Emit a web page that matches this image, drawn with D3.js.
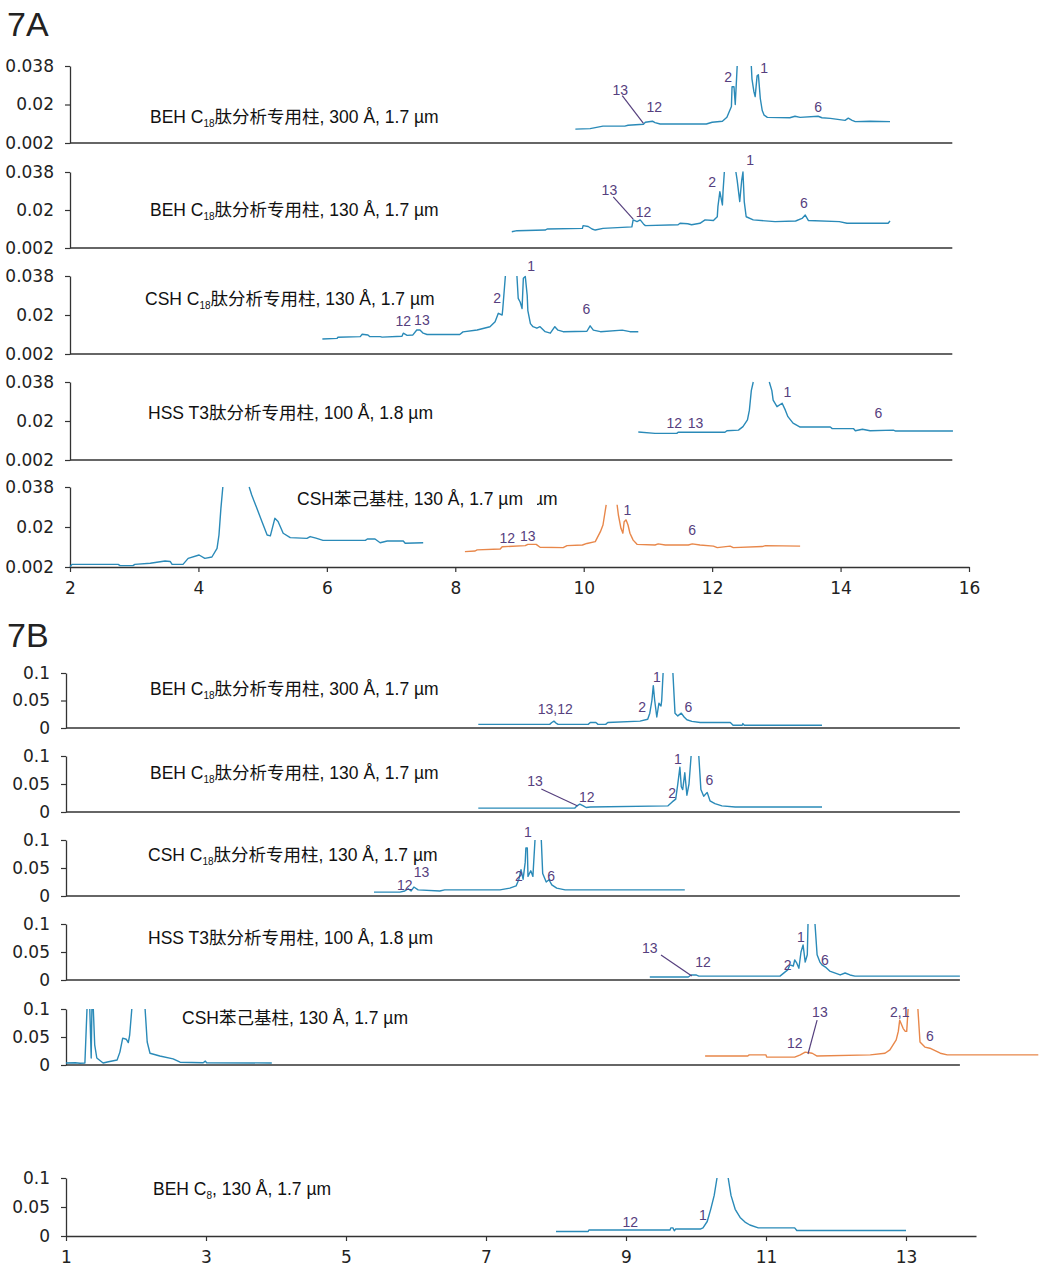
<!DOCTYPE html>
<html><head><meta charset="utf-8">
<script src="https://cdn.jsdelivr.net/npm/d3@7"></script>
<style>
body{margin:0;background:#fff}
svg{display:block}
</style>
</head><body>
<svg id="c" width="1053" height="1280"></svg>
<script>
// ---------- DATA (retention time in min, absorbance in AU) ----------
const axisTicksA = [0.002, 0.02, 0.038];
const axisTicksB = [0, 0.05, 0.1];
const timeTicksA = [2, 4, 6, 8, 10, 12, 14, 16];
const timeTicksB = [1, 3, 5, 7, 9, 11, 13];

const panelTitles = [
  ["BEH C", "18", "肽分析专用柱, 300 Å, 1.7 µm"],
  ["BEH C", "18", "肽分析专用柱, 130 Å, 1.7 µm"],
  ["CSH C", "18", "肽分析专用柱, 130 Å, 1.7 µm"],
  ["HSS T3肽分析专用柱, 100 Å, 1.8 µm", "", ""],
  ["CSH苯己基柱, 130 Å, 1.7 µm", "", ""],
  ["BEH C", "8", ", 130 Å, 1.7 µm"]
];

// 7A traces
const a1Time = [9.87,10.10,10.30,10.64,10.69,10.93,10.96,11.07,11.11,11.19,11.91,12.00,12.16,12.23,12.30,12.31,12.34,12.36,12.39,12.50,12.61,12.62,12.65,12.67,12.70,12.72,12.75,12.78,12.81,12.86,13.21,13.29,13.37,13.65,13.71,13.84,14.07,14.12,14.18,14.23,14.46,14.77];
const a1Abs  = [0.0085,0.0087,0.0099,0.0099,0.0103,0.0108,0.0117,0.0122,0.0115,0.0109,0.0109,0.0117,0.0122,0.0140,0.0191,0.0283,0.0283,0.0200,0.038,null,0.038,0.032,0.026,0.0237,0.0334,0.0339,0.0228,0.0172,0.0150,0.0140,0.0138,0.0145,0.0140,0.0145,0.0138,0.0135,0.0126,0.0136,0.0126,0.0120,0.0122,0.0120];

const a2Time = [8.88,8.96,9.40,9.43,9.98,9.99,10.07,10.13,10.18,10.30,10.75,10.77,10.83,10.88,10.93,10.96,11.47,11.50,11.62,11.68,11.81,11.89,12.02,12.08,12.09,12.12,12.16,12.17,12.19,12.28,12.37,12.39,12.43,12.46,12.48,12.50,12.53,12.64,12.98,13.30,13.40,13.45,13.50,13.98,14.10,14.74,14.77];
const a2Abs  = [0.0097,0.0102,0.0105,0.0110,0.0113,0.0126,0.0122,0.0110,0.0105,0.0113,0.0120,0.0153,0.0145,0.0153,0.0134,0.0126,0.0130,0.0137,0.0135,0.0130,0.0137,0.0153,0.0150,0.0168,0.0216,0.0287,0.0224,0.0290,0.038,null,0.038,0.034,0.024,0.034,0.038,0.024,0.0168,0.0153,0.0145,0.0148,0.0160,0.0176,0.0150,0.0145,0.0137,0.0137,0.0148];

const a3Time = [5.93,6.16,6.17,6.52,6.55,6.64,6.67,6.83,6.86,7.17,7.19,7.25,7.34,7.40,7.45,7.50,7.56,8.07,8.12,8.34,8.54,8.62,8.67,8.73,8.74,8.78,8.87,8.96,8.98,9.01,9.04,9.06,9.09,9.12,9.13,9.17,9.21,9.27,9.32,9.40,9.48,9.55,9.60,9.68,10.05,10.10,10.15,10.26,10.60,10.72,10.85];
const a3Abs  = [0.0089,0.0092,0.0097,0.0100,0.0111,0.0108,0.0100,0.0100,0.0098,0.0102,0.0116,0.0106,0.0108,0.0131,0.0131,0.0116,0.0110,0.0110,0.0122,0.0131,0.0146,0.0169,0.0208,0.0200,0.0230,0.038,null,0.038,0.0277,0.0260,0.0230,0.0370,0.0378,0.0290,0.0220,0.0160,0.0146,0.0139,0.0146,0.0123,0.0116,0.0146,0.0130,0.0123,0.0125,0.0150,0.0130,0.0123,0.0130,0.0123,0.0123];

const a4Time = [10.85,11.11,11.45,11.47,12.20,12.23,12.41,12.48,12.55,12.58,12.61,12.64,12.76,12.89,12.93,12.95,13.01,13.09,13.14,13.18,13.26,13.37,13.84,13.87,14.20,14.23,14.34,14.46,14.82,14.85,15.75];
const a4Abs  = [0.0149,0.0143,0.0143,0.0148,0.0148,0.0155,0.0158,0.0174,0.0205,0.0250,0.0340,0.038,null,0.038,0.0340,0.0296,0.0266,0.0282,0.0250,0.0220,0.0190,0.0172,0.0172,0.0165,0.0165,0.0155,0.0162,0.0155,0.0158,0.0154,0.0154];

const a5BlueTime = [2.00,2.03,2.16,2.75,2.78,2.98,3.01,3.25,3.48,3.56,3.59,3.76,3.84,4.01,4.10,4.21,4.29,4.32,4.35,4.38,4.58,4.79,4.83,4.91,4.99,5.07,5.12,5.19,5.24,5.32,5.43,5.69,5.74,5.83,5.94,6.60,6.63,6.75,6.83,6.94,7.19,7.22,7.50];
const a5BlueAbs  = [0.0021,0.0032,0.0032,0.0032,0.0026,0.0026,0.0032,0.0037,0.0047,0.0045,0.0032,0.0032,0.0059,0.0074,0.0059,0.0065,0.0104,0.0164,0.0284,0.038,null,0.038,0.0344,0.0284,0.0224,0.0164,0.0160,0.0239,0.0225,0.0172,0.0152,0.0149,0.0157,0.0150,0.0140,0.0140,0.0146,0.0146,0.0129,0.0137,0.0137,0.0127,0.0129];

const a5OrangeTime = [8.15,8.31,8.34,8.70,8.73,9.09,9.13,9.26,9.32,9.68,9.74,9.98,10.05,10.18,10.26,10.30,10.35,10.44,10.52,10.54,10.58,10.61,10.63,10.66,10.69,10.72,10.77,10.83,11.11,11.16,11.27,11.63,11.69,11.81,12.02,12.08,12.28,12.33,12.78,12.83,13.37];
const a5OrangeAbs  = [0.0089,0.0092,0.0097,0.0101,0.0111,0.0116,0.0122,0.0122,0.0109,0.0107,0.0116,0.0119,0.0126,0.0134,0.0179,0.0209,0.0300,null,0.0300,0.0254,0.0194,0.0172,0.0224,0.0232,0.0209,0.0172,0.0141,0.0122,0.0119,0.0124,0.0119,0.0119,0.0124,0.0119,0.0114,0.0107,0.0114,0.0107,0.0112,0.0116,0.0114];

// 7B traces
const b1Time = [6.89,7.91,7.94,7.97,8.00,8.03,8.46,8.49,8.57,8.60,8.71,8.74,9.20,9.31,9.34,9.37,9.39,9.41,9.44,9.47,9.50,9.51,9.53,9.60,9.67,9.70,9.74,9.79,9.83,9.87,9.94,10.06,10.49,10.53,10.66,10.67,10.69,11.80];
const b1Abs  = [0.0066,0.0066,0.0100,0.0125,0.0090,0.0066,0.0066,0.0100,0.0100,0.0066,0.0066,0.0100,0.0125,0.0160,0.0270,0.0500,0.0770,0.0500,0.0200,0.0450,0.0400,0.0500,0.1,null,0.1,0.0270,0.0220,0.0270,0.0200,0.0150,0.0120,0.0100,0.0100,0.0050,0.0050,0.0080,0.0050,0.0050];

const b2Time = [6.89,8.27,8.30,8.34,8.39,8.43,8.49,9.60,9.66,9.71,9.74,9.77,9.79,9.81,9.84,9.87,9.90,9.93,9.98,10.04,10.07,10.11,10.16,10.20,10.27,10.37,10.56,11.80];
const b2Abs  = [0.007,0.007,0.011,0.014,0.011,0.008,0.009,0.011,0.018,0.023,0.050,0.080,0.045,0.040,0.070,0.030,0.050,0.1,null,0.1,0.040,0.028,0.035,0.020,0.015,0.011,0.009,0.009];

const b3Time = [5.40,5.77,5.84,5.89,5.93,5.97,6.03,6.34,6.41,7.20,7.34,7.43,7.47,7.50,7.53,7.56,7.57,7.59,7.60,7.64,7.67,7.70,7.75,7.79,7.81,7.86,7.90,7.94,8.01,8.13,9.84];
const b3Abs  = [0.007,0.007,0.009,0.013,0.009,0.016,0.011,0.009,0.011,0.011,0.014,0.018,0.030,0.047,0.030,0.060,0.086,0.086,0.035,0.045,0.035,0.1,null,0.1,0.040,0.025,0.029,0.020,0.014,0.011,0.011];

const b4Time = [9.34,9.89,9.93,10.00,10.04,11.20,11.27,11.31,11.34,11.39,11.41,11.44,11.47,11.50,11.53,11.56,11.59,11.60,11.65,11.70,11.73,11.77,11.80,11.86,11.91,12.06,12.13,12.20,12.27,13.77];
const b4Abs  = [0.0054,0.0054,0.009,0.009,0.007,0.007,0.014,0.018,0.027,0.025,0.036,0.030,0.021,0.050,0.0625,0.032,0.045,0.1,null,0.1,0.045,0.032,0.027,0.022,0.016,0.009,0.0125,0.009,0.007,0.007];

const b5BlueTime = [1.00,1.13,1.20,1.27,1.30,1.32,1.34,1.36,1.37,1.38,1.39,1.41,1.44,1.53,1.59,1.73,1.77,1.81,1.86,1.89,1.91,1.94,2.03,2.13,2.16,2.20,2.34,2.53,2.63,2.96,2.99,3.01,3.94];
const b5BlueAbs  = [0.0036,0.004,0.003,0.0036,0.1,null,0.1,0.0125,0.1,null,0.1,0.036,0.0125,0.0036,0.0054,0.009,0.023,0.048,0.046,0.040,0.054,0.1,null,0.1,0.041,0.021,0.016,0.011,0.005,0.004,0.007,0.004,0.0036];

const b5OrangeTime = [10.13,10.74,10.76,11.00,11.01,11.41,11.49,11.56,11.66,11.73,12.49,12.70,12.77,12.86,12.89,12.91,12.96,12.99,13.01,13.03,13.10,13.17,13.20,13.27,13.34,13.49,13.59,14.89];
const b5OrangeAbs  = [0.016,0.016,0.018,0.018,0.014,0.014,0.018,0.023,0.021,0.016,0.018,0.021,0.027,0.045,0.060,0.080,0.065,0.060,0.060,0.1,null,0.1,0.041,0.032,0.030,0.021,0.018,0.018];

const b6Time = [8.00,8.46,8.47,9.63,9.64,9.67,9.69,9.71,10.06,10.10,10.16,10.21,10.26,10.30,10.38,10.46,10.50,10.56,10.63,10.70,10.77,10.89,11.41,11.44,13.00];
const b6Abs  = [0.0078,0.0078,0.0103,0.0103,0.014,0.014,0.009,0.012,0.012,0.014,0.025,0.046,0.070,0.1,null,0.1,0.070,0.046,0.032,0.024,0.019,0.014,0.014,0.0095,0.0095];

// Peak labels: [text, time, absorbance]
const a1Peaks = [["13",10.57,0.0269],["12",11.10,0.0186],["2",12.25,0.033],["1",12.81,0.0371],["6",13.65,0.0186]];
const a2Peaks = [["13",10.40,0.0295],["12",10.93,0.0191],["2",12.00,0.0333],["1",12.59,0.0437],["6",13.43,0.0233]];
const a3Peaks = [["12",7.19,0.0172],["13",7.48,0.0177],["2",8.65,0.0279],["1",9.18,0.0427],["6",10.04,0.0228]];
const a4Peaks = [["12",11.41,0.0191],["13",11.74,0.0191],["1",13.17,0.0334],["6",14.59,0.0237]];
const a5Peaks = [["12",8.81,0.0151],["13",9.13,0.0160],["1",10.68,0.0277],["6",11.69,0.0187]];
const b1Peaks = [["13,12",7.99,0.034],["2",9.23,0.0375],["1",9.44,0.093],["6",9.89,0.0375]];
const b2Peaks = [["13",7.70,0.0554],["12",8.44,0.0268],["2",9.66,0.034],["1",9.74,0.0947],["6",10.19,0.057]];
const b3Peaks = [["12",5.84,0.019],["13",6.08,0.043],["2",7.47,0.036],["1",7.60,0.114],["6",7.93,0.0357]];
const b4Peaks = [["13",9.34,0.057],["12",10.10,0.032],["2",11.31,0.0268],["1",11.50,0.0768],["6",11.84,0.0357]];
const b5Peaks = [["12",11.41,0.039],["13",11.77,0.0947],["2,1",12.91,0.0947],["6",13.34,0.0518]];
const b6Peaks = [["12",9.06,0.024],["1",10.10,0.036]];

// Leader lines: [t1, v1, t2, v2]
const a1Leader = [10.60,0.0242,10.93,0.0112];
const a2Leader = [10.46,0.0262,10.77,0.0157];
const b2Leader = [7.79,0.041,8.31,0.0107];
const b4Leader = [9.50,0.0446,9.94,0.0071];
const b5Leader = [11.73,0.080,11.60,0.0196];

// ---------- STYLE / LAYOUT ----------
const BLUE = "#2a8ab8", ORANGE = "#e8874a", PURPLE = "#56407e", AXIS = "#333";
const xA = d3.scaleLinear().domain([2, 16]).range([70, 969]);
const xB = d3.scaleLinear().domain([1, 14]).range([66, 976]);

const panels = [
  {x:xA, top:66, bottom:143, dom:[0.002,0.038], ticks:axisTicksA, end:15.74, title:panelTitles[0], tx:150, ty:123,
   traces:[[a1Time,a1Abs,BLUE]], peaks:a1Peaks, leaders:[a1Leader]},
  {x:xA, top:172, bottom:248, dom:[0.002,0.038], ticks:axisTicksA, end:15.74, title:panelTitles[1], tx:150, ty:216,
   traces:[[a2Time,a2Abs,BLUE]], peaks:a2Peaks, leaders:[a2Leader]},
  {x:xA, top:276, bottom:354, dom:[0.002,0.038], ticks:axisTicksA, end:15.74, title:panelTitles[2], tx:145, ty:305,
   traces:[[a3Time,a3Abs,BLUE]], peaks:a3Peaks, leaders:[]},
  {x:xA, top:382, bottom:460, dom:[0.002,0.038], ticks:axisTicksA, end:15.74, title:panelTitles[3], tx:148, ty:419,
   traces:[[a4Time,a4Abs,BLUE]], peaks:a4Peaks, leaders:[]},
  {x:xA, top:487, bottom:567, dom:[0.002,0.038], ticks:axisTicksA, end:16, xticks:timeTicksA, title:panelTitles[4], tx:297, ty:505, ghost:true,
   traces:[[a5BlueTime,a5BlueAbs,BLUE],[a5OrangeTime,a5OrangeAbs,ORANGE]], peaks:a5Peaks, leaders:[]},
  {x:xB, top:673, bottom:728, dom:[0,0.1], ticks:axisTicksB, end:13.77, title:panelTitles[0], tx:150, ty:695,
   traces:[[b1Time,b1Abs,BLUE]], peaks:b1Peaks, leaders:[]},
  {x:xB, top:756, bottom:812, dom:[0,0.1], ticks:axisTicksB, end:13.77, title:panelTitles[1], tx:150, ty:779,
   traces:[[b2Time,b2Abs,BLUE]], peaks:b2Peaks, leaders:[b2Leader]},
  {x:xB, top:840, bottom:896, dom:[0,0.1], ticks:axisTicksB, end:13.77, title:panelTitles[2], tx:148, ty:861,
   traces:[[b3Time,b3Abs,BLUE]], peaks:b3Peaks, leaders:[]},
  {x:xB, top:924, bottom:980, dom:[0,0.1], ticks:axisTicksB, end:13.77, title:panelTitles[3], tx:148, ty:944,
   traces:[[b4Time,b4Abs,BLUE]], peaks:b4Peaks, leaders:[b4Leader]},
  {x:xB, top:1009, bottom:1065, dom:[0,0.1], ticks:axisTicksB, end:13.77, title:panelTitles[4], tx:182, ty:1024,
   traces:[[b5BlueTime,b5BlueAbs,BLUE],[b5OrangeTime,b5OrangeAbs,ORANGE]], peaks:b5Peaks, leaders:[b5Leader]},
  {x:xB, top:1178, bottom:1236, dom:[0,0.1], ticks:axisTicksB, end:14, xticks:timeTicksB, title:panelTitles[5], tx:153, ty:1195,
   traces:[[b6Time,b6Abs,BLUE]], peaks:b6Peaks, leaders:[]}
];

const svg = d3.select("#c");
const TXT = "'Liberation Sans', Arial, 'Noto Sans CJK SC', sans-serif";
const NUM = "'DejaVu Sans', Verdana, sans-serif";

svg.append("text").attr("x", 7).attr("y", 36).attr("font-family", TXT).attr("font-size", 34).attr("fill", "#222").text("7A");
svg.append("text").attr("x", 7).attr("y", 647).attr("font-family", TXT).attr("font-size", 34).attr("fill", "#222").text("7B");

svg.append("defs").append("clipPath").attr("id","ghostclip").append("rect")
  .attr("x", 537).attr("y", 480).attr("width", 40).attr("height", 40);

panels.forEach(p => {
  const x = p.x;
  const y = d3.scaleLinear().domain(p.dom).range([p.bottom, p.top]);
  const g = svg.append("g");

  // y axis
  const ya = g.append("g").attr("transform", `translate(${x.range()[0]},0)`)
    .call(d3.axisLeft(y).tickValues(p.ticks).tickSize(5).tickSizeOuter(0).tickPadding(11).tickFormat(d => String(d)));
  ya.select(".domain").attr("stroke", AXIS).attr("stroke-width", 1.3);
  ya.selectAll(".tick line").attr("stroke", AXIS).attr("stroke-width", 1.2);
  ya.selectAll("text").attr("font-family", NUM).attr("font-size", 17).attr("fill", "#222");

  // x axis / baseline
  if (p.xticks) {
    const xa = g.append("g").attr("transform", `translate(0,${p.bottom})`)
      .call(d3.axisBottom(x).tickValues(p.xticks).tickSize(5).tickSizeOuter(0).tickPadding(10).tickFormat(d => String(d)));
    xa.select(".domain").attr("stroke", AXIS).attr("stroke-width", 1.6);
    xa.selectAll(".tick line").attr("stroke", AXIS).attr("stroke-width", 1.2);
    xa.selectAll("text").attr("font-family", NUM).attr("font-size", 17).attr("fill", "#222");
  } else {
    g.append("line").attr("x1", x(x.domain()[0])).attr("x2", x(p.end))
      .attr("y1", p.bottom).attr("y2", p.bottom).attr("stroke", AXIS).attr("stroke-width", 1.6);
  }

  // traces
  p.traces.forEach(([t, v, col]) => {
    const pts = t.map((d, i) => [d, v[i]]);
    g.append("path").datum(pts)
      .attr("fill", "none").attr("stroke", col).attr("stroke-width", 1.4).attr("stroke-linejoin", "round")
      .attr("d", d3.line().defined(d => d[1] !== null).x(d => x(d[0])).y(d => y(d[1])));
  });

  // leaders
  p.leaders.forEach(l => {
    g.append("line").attr("x1", x(l[0])).attr("y1", y(l[1])).attr("x2", x(l[2])).attr("y2", y(l[3]))
      .attr("stroke", PURPLE).attr("stroke-width", 1.2);
  });

  // peak labels
  g.selectAll("text.pk").data(p.peaks).enter().append("text").attr("class", "pk")
    .attr("x", d => x(d[1])).attr("y", d => y(d[2]))
    .attr("text-anchor", "middle").attr("dominant-baseline", "central")
    .attr("font-family", TXT).attr("font-size", 14).attr("fill", PURPLE).text(d => d[0]);

  // title
  const tt = g.append("text").attr("x", p.tx).attr("y", p.ty).attr("font-family", TXT).attr("font-size", 17.5).attr("fill", "#111");
  tt.append("tspan").text(p.title[0]);
  if (p.title[1]) {
    tt.append("tspan").attr("font-size", 10).attr("dy", 4).text(p.title[1]);
    tt.append("tspan").attr("dy", -4).text(p.title[2]);
  }
  if (p.ghost) {
    g.append("text").attr("x", 533).attr("y", p.ty).attr("font-family", TXT).attr("font-size", 17.5).attr("fill", "#111")
      .attr("clip-path", "url(#ghostclip)").text("µm");
  }
});
</script>
</body></html>
